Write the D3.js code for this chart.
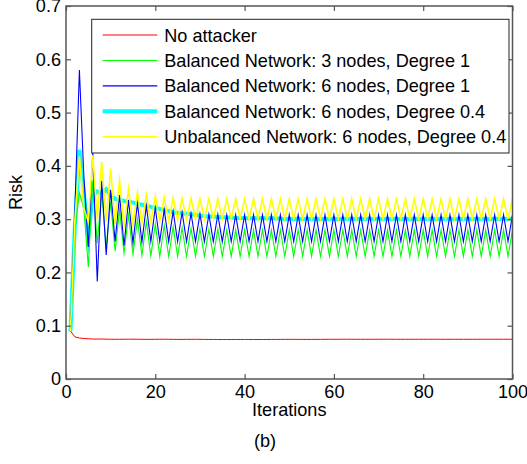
<!DOCTYPE html>
<html>
<head>
<meta charset="utf-8">
<script src="https://cdn.jsdelivr.net/npm/d3@7"></script>
<style>
  html, body { margin: 0; padding: 0; background: #fff; }
  svg { display: block; }
  text { font-family: "Liberation Sans", Arial, Helvetica, sans-serif; fill: #000; }
</style>
</head>
<body>
<svg id="chart" width="527" height="464"></svg>
<script>
// Iteration index (x values)
const iterations = d3.range(1, 101);

// Risk per iteration for each scenario
const noAttacker = [
  0.090,0.079,0.077,0.076,0.0755,0.075,0.075,0.075,0.0748,0.0746,
  0.0745,0.0745,0.0746,0.0747,0.0747,0.0746,0.0745,0.0744,0.0744,0.0745,
  0.0746,0.0746,0.0745,0.0744,0.0743,0.0743,0.0744,0.0745,0.0745,0.0744,
  0.0743,0.0742,0.0742,0.0741,0.0741,0.0741,0.0741,0.0742,0.0742,0.0742,
  0.0742,0.0741,0.0741,0.0741,0.0742,0.0742,0.0743,0.0743,0.0744,0.0744,
  0.0744,0.0744,0.0743,0.0743,0.0743,0.0744,0.0744,0.0745,0.0745,0.0745,
  0.0745,0.0746,0.0746,0.0746,0.0745,0.0745,0.0745,0.0745,0.0746,0.0746,
  0.0746,0.0746,0.0746,0.0745,0.0745,0.0745,0.0745,0.0745,0.0746,0.0746,
  0.0746,0.0746,0.0746,0.0746,0.0745,0.0745,0.0745,0.0745,0.0745,0.0745,
  0.0745,0.0745,0.0746,0.0746,0.0746,0.0746,0.0746,0.0746,0.0746,0.0746
];
const balanced3Deg1 = [
  0.090,0.280,0.350,0.320,0.210,0.373,0.255,0.352,0.246,0.332,
  0.240,0.318,0.236,0.308,0.234,0.300,0.232,0.295,0.231,0.291,
  0.230,0.288,0.230,0.286,0.230,0.284,0.230,0.283,0.230,0.282,
  0.230,0.281,0.230,0.281,0.230,0.280,0.230,0.280,0.230,0.280,
  0.230,0.280,0.230,0.280,0.230,0.280,0.230,0.280,0.230,0.280,
  0.230,0.280,0.230,0.280,0.230,0.280,0.230,0.280,0.230,0.280,
  0.230,0.280,0.230,0.280,0.230,0.280,0.230,0.280,0.230,0.280,
  0.230,0.280,0.230,0.280,0.230,0.280,0.230,0.280,0.230,0.280,
  0.230,0.280,0.230,0.280,0.230,0.280,0.230,0.280,0.230,0.280,
  0.230,0.280,0.230,0.280,0.230,0.280,0.230,0.280,0.230,0.280
];
const balanced6Deg1 = [
  0.090,0.320,0.580,0.380,0.248,0.425,0.183,0.372,0.233,0.355,
  0.258,0.345,0.250,0.336,0.255,0.330,0.257,0.325,0.258,0.321,
  0.258,0.318,0.258,0.315,0.258,0.313,0.258,0.311,0.258,0.310,
  0.258,0.309,0.258,0.309,0.258,0.308,0.258,0.308,0.258,0.308,
  0.258,0.308,0.258,0.308,0.258,0.308,0.258,0.308,0.258,0.308,
  0.258,0.308,0.258,0.308,0.258,0.308,0.258,0.308,0.258,0.308,
  0.258,0.308,0.258,0.308,0.258,0.308,0.258,0.308,0.258,0.308,
  0.258,0.308,0.258,0.308,0.258,0.308,0.258,0.308,0.258,0.308,
  0.258,0.308,0.258,0.308,0.258,0.308,0.258,0.308,0.258,0.308,
  0.258,0.308,0.258,0.308,0.258,0.308,0.258,0.308,0.258,0.308
];
const balanced6Deg04 = [
  0.090,0.290,0.430,0.350,0.268,0.345,0.352,0.348,0.356,0.345,
  0.338,0.336,0.334,0.333,0.331,0.329,0.327,0.325,0.323,0.321,
  0.319,0.317,0.315,0.313,0.312,0.311,0.310,0.309,0.308,0.307,
  0.306,0.305,0.305,0.304,0.304,0.303,0.303,0.302,0.302,0.302,
  0.301,0.302,0.301,0.302,0.301,0.302,0.301,0.301,0.300,0.301,
  0.300,0.301,0.300,0.301,0.300,0.301,0.300,0.301,0.300,0.301,
  0.300,0.301,0.300,0.301,0.300,0.301,0.300,0.301,0.300,0.301,
  0.300,0.301,0.300,0.301,0.300,0.301,0.300,0.301,0.300,0.301,
  0.300,0.301,0.300,0.301,0.300,0.301,0.300,0.301,0.300,0.301,
  0.300,0.301,0.300,0.301,0.300,0.301,0.300,0.301,0.300,0.301
];
const unbalanced6Deg04 = [
  0.090,0.300,0.418,0.320,0.295,0.420,0.300,0.408,0.295,0.395,
  0.290,0.372,0.288,0.357,0.290,0.350,0.292,0.346,0.294,0.343,
  0.296,0.341,0.297,0.340,0.298,0.339,0.299,0.339,0.300,0.338,
  0.300,0.338,0.300,0.338,0.300,0.338,0.300,0.338,0.300,0.338,
  0.300,0.338,0.300,0.338,0.300,0.338,0.300,0.338,0.300,0.338,
  0.300,0.338,0.300,0.338,0.300,0.338,0.300,0.338,0.300,0.338,
  0.300,0.338,0.300,0.338,0.300,0.338,0.300,0.338,0.300,0.338,
  0.300,0.338,0.300,0.338,0.300,0.338,0.300,0.338,0.300,0.338,
  0.300,0.338,0.300,0.338,0.300,0.338,0.300,0.338,0.300,0.338,
  0.300,0.338,0.300,0.338,0.300,0.338,0.300,0.338,0.300,0.338
];

const seriesNames = [
  "No attacker",
  "Balanced Network: 3 nodes, Degree 1",
  "Balanced Network: 6 nodes, Degree 1",
  "Balanced Network: 6 nodes, Degree 0.4",
  "Unbalanced Network: 6 nodes, Degree 0.4"
];
const seriesValues = [noAttacker, balanced3Deg1, balanced6Deg1, balanced6Deg04, unbalanced6Deg04];
const seriesColors = ["#ff0000", "#00ff00", "#0000ff", "#00ffff", "#ffff00"];
const seriesWidths = [1, 1.1, 1.1, 4, 1.6];
// drawing order: thick cyan underneath the thin oscillating lines
const drawOrder = [3, 0, 1, 2, 4];

const xTicks = [0, 20, 40, 60, 80, 100];
const yTicks = [0, 0.1, 0.2, 0.3, 0.4, 0.5, 0.6, 0.7];

const svg = d3.select("#chart");
const W = 527, H = 464;
const plot = { left: 66, right: 512.5, top: 6, bottom: 379 };
const FS = 18.1;

svg.append("rect").attr("width", W).attr("height", H).attr("fill", "#fff");

const x = d3.scaleLinear().domain([0, 100]).range([plot.left, plot.right]);
const y = d3.scaleLinear().domain([0, 0.7]).range([plot.bottom, plot.top]);

svg.append("defs").append("clipPath").attr("id", "plotClip")
  .append("rect")
  .attr("x", plot.left).attr("y", plot.top)
  .attr("width", plot.right - plot.left).attr("height", plot.bottom - plot.top);

const line = d3.line().x((d, i) => x(iterations[i])).y(d => y(d));

const lines = svg.append("g").attr("clip-path", "url(#plotClip)");
drawOrder.forEach(k => {
  lines.append("path")
    .datum(seriesValues[k])
    .attr("d", line)
    .attr("fill", "none")
    .attr("stroke", seriesColors[k])
    .attr("stroke-width", seriesWidths[k])
    .attr("stroke-linejoin", "miter")
    .attr("stroke-miterlimit", 10);
});

// Axes with inward ticks on all four sides
const tickLen = 5;
const axisColor = "#555";
const styleAxis = g => {
  g.select(".domain").remove();
  g.selectAll(".tick line").attr("stroke", axisColor).attr("stroke-width", 1.2);
  g.selectAll(".tick text").style("font-size", FS + "px")
    .style("font-family", '"Liberation Sans", Arial, sans-serif').attr("fill", "#000");
};

svg.append("g").attr("transform", `translate(0,${plot.bottom})`)
  .call(d3.axisBottom(x).tickValues(xTicks).tickSize(-tickLen).tickPadding(6).tickFormat(d3.format("d")))
  .call(styleAxis);
svg.append("g").attr("transform", `translate(0,${plot.top})`)
  .call(d3.axisTop(x).tickValues(xTicks).tickSize(-tickLen).tickFormat(""))
  .call(styleAxis);
svg.append("g").attr("transform", `translate(${plot.left},0)`)
  .call(d3.axisLeft(y).tickValues(yTicks).tickSize(-tickLen).tickPadding(5)
    .tickFormat(d => d === 0 ? "0" : d3.format(".1f")(d)))
  .call(styleAxis);
svg.append("g").attr("transform", `translate(${plot.right},0)`)
  .call(d3.axisRight(y).tickValues(yTicks).tickSize(-tickLen).tickFormat(""))
  .call(styleAxis);

// plot frame
svg.append("rect")
  .attr("x", plot.left).attr("y", plot.top)
  .attr("width", plot.right - plot.left).attr("height", plot.bottom - plot.top)
  .attr("fill", "none").attr("stroke", axisColor).attr("stroke-width", 1.5);

// Axis titles and panel label
svg.append("text").attr("x", (plot.left + plot.right) / 2).attr("y", 416)
  .attr("text-anchor", "middle").style("font-size", FS + "px").text("Iterations");
svg.append("text").attr("transform", `translate(22,${(plot.top + plot.bottom) / 2}) rotate(-90)`)
  .attr("text-anchor", "middle").style("font-size", FS + "px").text("Risk");
svg.append("text").attr("x", 265).attr("y", 447)
  .attr("text-anchor", "middle").style("font-size", FS + "px").text("(b)");

// Legend
const lg = { left: 91.7, top: 19.3, right: 509, bottom: 153 };
svg.append("rect")
  .attr("x", lg.left).attr("y", lg.top)
  .attr("width", lg.right - lg.left).attr("height", lg.bottom - lg.top)
  .attr("fill", "#fff").attr("stroke", "#222").attr("stroke-width", 1);
const rowY = d3.scaleLinear().domain([0, 4]).range([35, 136.7]);
seriesNames.forEach((name, k) => {
  const yy = rowY(k);
  svg.append("line")
    .attr("x1", 102.7).attr("x2", 157.3).attr("y1", yy).attr("y2", yy)
    .attr("stroke", seriesColors[k]).attr("stroke-width", seriesWidths[k]);
  svg.append("text").attr("x", 164.3).attr("y", yy + FS * 0.36)
    .style("font-size", FS + "px").text(name);
});
</script>
</body>
</html>
